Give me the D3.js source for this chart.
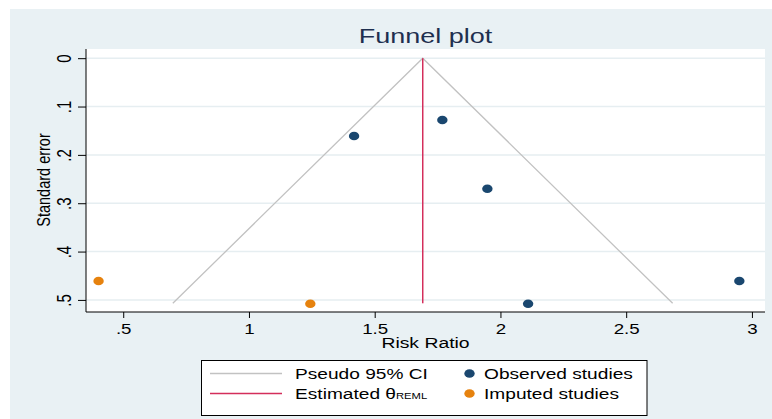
<!DOCTYPE html>
<html><head><meta charset="utf-8">
<script src="https://cdn.jsdelivr.net/npm/d3@7"></script>
<style>html,body{margin:0;padding:0;background:#fff;}svg{display:block;}</style>
</head><body>
<script>
// ---- data ----
const observedRR = [1.418, 1.769, 1.948, 2.110, 2.950];
const observedSE = [0.161, 0.128, 0.270, 0.508, 0.461];
const imputedRR = [0.402, 1.244];
const imputedSE = [0.461, 0.508];
const thetaREML = 1.691;
const maxSE = 0.507;
const zCrit = 1.96;
const xTicks = [0.5, 1, 1.5, 2, 2.5, 3];
const xTickLabels = [".5", "1", "1.5", "2", "2.5", "3"];
const yTicks = [0, 0.1, 0.2, 0.3, 0.4, 0.5];
const yTickLabels = ["0", ".1", ".2", ".3", ".4", ".5"];
const legendLabels = ["Pseudo 95% CI", "Estimated \u03b8", "Observed studies", "Imputed studies"];

const W = 772, H = 419;
const FONT = "'Liberation Sans', Arial, Helvetica, sans-serif";
const C = {bg: "#e9f1f4", grid: "#e6eef1", navy: "#1a476f", orange: "#e6820e", red: "#d42e5b", ci: "#c2c2c2", title: "#1e2f4f"};
const SX = 1.25;

const svg = d3.select("body").append("svg").attr("width", W).attr("height", H);
svg.append("rect").attr("width", W).attr("height", H).attr("fill", "#fff");
svg.append("rect").attr("x", 10).attr("y", 9).attr("width", W - 10).attr("height", H - 9).attr("fill", C.bg);

const plot = {l: 86, r: 765, t: 49, b: 312};
svg.append("rect").attr("x", plot.l).attr("y", plot.t).attr("width", plot.r - plot.l).attr("height", plot.b - plot.t).attr("fill", "#fff");

const x = d3.scaleLinear().domain([0.352, 3.052]).range([plot.l, plot.r]);
const y = d3.scaleLinear().domain([-0.019, 0.525]).range([plot.t, plot.b]);

function stext(g, str, tx, ty, size, opts = {}) {
  const t = g.append("text")
    .attr("transform", `translate(${tx},${ty}) scale(${opts.sx || SX},1)` + (opts.rot ? ` rotate(${opts.rot})` : ""))
    .attr("font-family", FONT).attr("font-size", size)
    .attr("fill", opts.fill || "#000")
    .attr("text-anchor", opts.anchor || "start")
    .text(str);
  return t;
}

// gridlines
svg.append("g").selectAll("line").data(yTicks).join("line")
  .attr("x1", plot.l).attr("x2", plot.r)
  .attr("y1", d => y(d)).attr("y2", d => y(d))
  .attr("stroke", C.grid).attr("stroke-width", 1.5);

// axes
const yAxis = d3.axisLeft(y).tickValues(yTicks).tickFormat((d, i) => yTickLabels[i]).tickSize(8).tickPadding(0);
const gy = svg.append("g").attr("transform", `translate(${plot.l},0)`).call(yAxis);
gy.select(".domain").attr("d", `M0,${plot.t}V${plot.b}`).attr("stroke", "#000");
gy.selectAll(".tick line").attr("stroke", "#000");
gy.selectAll(".tick text").remove();
gy.selectAll(".tick").each(function (d, i) {
  stext(d3.select(this), yTickLabels[i], -15, 0, 15, {rot: -90, anchor: "middle", sx: 1.3});
});

const xAxis = d3.axisBottom(x).tickValues(xTicks).tickFormat((d, i) => xTickLabels[i]).tickSize(6);
const gx = svg.append("g").attr("transform", `translate(0,${plot.b})`).call(xAxis);
gx.select(".domain").attr("d", `M${plot.l},0H${plot.r}`).attr("stroke", "#000");
gx.selectAll(".tick line").attr("stroke", "#000");
gx.selectAll(".tick text").remove();
gx.selectAll(".tick").each(function (d, i) {
  stext(d3.select(this), xTickLabels[i], 0, 22, 15, {anchor: "middle"});
});

// axis titles and title
stext(svg, "Risk Ratio", (plot.l + plot.r) / 2, 347.5, 15.5, {anchor: "middle"});
stext(svg, "Standard error", 50, 180, 14.5, {rot: -90, anchor: "middle"});
stext(svg, "Funnel plot", (plot.l + plot.r) / 2, 43, 20, {anchor: "middle", sx: 1.35, fill: C.title});

// funnel (pseudo 95% CI)
const funnel = [[thetaREML - zCrit * maxSE, maxSE], [thetaREML, 0], [thetaREML + zCrit * maxSE, maxSE]];
svg.append("path").datum(funnel)
  .attr("d", d3.line().x(d => x(d[0])).y(d => y(d[1])))
  .attr("fill", "none").attr("stroke", C.ci).attr("stroke-width", 1.3);

// estimated theta line
svg.append("line")
  .attr("x1", x(thetaREML)).attr("x2", x(thetaREML))
  .attr("y1", y(0)).attr("y2", y(maxSE))
  .attr("stroke", C.red).attr("stroke-width", 1.5);

// points
const obs = observedRR.map((v, i) => ({rr: v, se: observedSE[i]}));
const imp = imputedRR.map((v, i) => ({rr: v, se: imputedSE[i]}));
svg.append("g").selectAll("ellipse").data(obs).join("ellipse")
  .attr("cx", d => x(d.rr)).attr("cy", d => y(d.se)).attr("rx", 5.2).attr("ry", 4.3).attr("fill", C.navy);
svg.append("g").selectAll("ellipse").data(imp).join("ellipse")
  .attr("cx", d => x(d.rr)).attr("cy", d => y(d.se)).attr("rx", 5.2).attr("ry", 4.3).attr("fill", C.orange);

// legend
const LSX = 1.32;
const lg = svg.append("g");
lg.append("rect").attr("x", 201.5).attr("y", 360.5).attr("width", 445.5).attr("height", 55)
  .attr("fill", "#fff").attr("stroke", "#000").attr("stroke-width", 1);
lg.append("line").attr("x1", 210).attr("x2", 282).attr("y1", 373.5).attr("y2", 373.5).attr("stroke", C.ci).attr("stroke-width", 1.3);
lg.append("line").attr("x1", 210).attr("x2", 282).attr("y1", 393.5).attr("y2", 393.5).attr("stroke", C.red).attr("stroke-width", 1.5);
stext(lg, legendLabels[0], 295, 379, 14.5, {sx: LSX});
const est = stext(lg, legendLabels[1], 295, 399, 14.5, {sx: LSX});
est.append("tspan").attr("font-size", 8.5).attr("dy", 0).text("REML");
lg.append("ellipse").attr("cx", 469.5).attr("cy", 373.5).attr("rx", 5.2).attr("ry", 4.3).attr("fill", C.navy);
lg.append("ellipse").attr("cx", 469.5).attr("cy", 393.5).attr("rx", 5.2).attr("ry", 4.3).attr("fill", C.orange);
stext(lg, legendLabels[2], 484, 379, 14.5, {sx: LSX});
stext(lg, legendLabels[3], 484, 399, 14.5, {sx: LSX});
</script>
</body></html>
